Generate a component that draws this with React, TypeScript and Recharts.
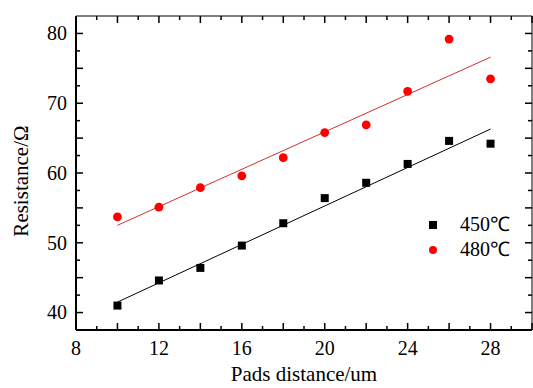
import { ReferenceArea, Scatter, ScatterChart, XAxis, YAxis } from "recharts";

const distances = [10, 12, 14, 16, 18, 20, 22, 24, 26, 28];
const res450 = [41.0, 44.6, 46.4, 49.6, 52.8, 56.4, 58.6, 61.3, 64.6, 64.2];
const res480 = [53.7, 55.1, 57.9, 59.6, 62.2, 65.8, 66.9, 71.7, 79.2, 73.5];

// linear fit end points
const fitX = [10, 28];
const fit450 = [41.5, 66.3];
const fit480 = [52.5, 76.6];

const seriesNames = ["450℃", "480℃"];
const xTicks = [8, 9, 10, 11, 12, 13, 14, 15, 16, 17, 18, 19, 20, 21, 22, 23, 24, 25, 26, 27, 28, 29, 30];
const yTicks = [40, 42.5, 45, 47.5, 50, 52.5, 55, 57.5, 60, 62.5, 65, 67.5, 70, 72.5, 75, 77.5, 80];

const FONT = "Liberation Serif";
const RED = "#ff0000";
const FIT_RED = "#d03030";

const W = 533;
const H = 388;
const MARGIN = { top: 16, right: 1, bottom: 0, left: 0 };
const X_AXIS_H = 58;
const Y_AXIS_W = 76;
const PLOT_W = W - MARGIN.left - MARGIN.right - Y_AXIS_W;
const PLOT_H = H - MARGIN.top - MARGIN.bottom - X_AXIS_H;

const points450 = distances.map((x, i) => ({ x, y: res450[i] }));
const points480 = distances.map((x, i) => ({ x, y: res480[i] }));
const line450 = fitX.map((x, i) => ({ x, y: fit450[i] }));
const line480 = fitX.map((x, i) => ({ x, y: fit480[i] }));

const tickLen = (major: boolean) => (major ? 7 : 4);

// bottom ticks also mirror onto the top border
const BottomTick = (props: any) => {
  const { x, y, payload, span } = props;
  const v = payload.value;
  const len = tickLen(v % 2 === 0);
  return (
    <g>
      <rect x={x - 0.75} y={y - len} width={1.5} height={len} fill="#000" />
      <rect x={x - 0.75} y={y - span} width={1.5} height={len} fill="#000" />
      {v % 4 === 0 && (
        <text x={x} y={y + 25} textAnchor="middle" fontFamily={FONT} fontSize={20} fill="#000">
          {v}
        </text>
      )}
    </g>
  );
};

// left ticks also mirror onto the right border
const LeftTick = (props: any) => {
  const { x, y, payload, span } = props;
  const v = payload.value;
  const len = tickLen(v % 5 === 0);
  return (
    <g>
      <rect x={x} y={y - 0.75} width={len} height={1.5} fill="#000" />
      <rect x={x + span - len} y={y - 0.75} width={len} height={1.5} fill="#000" />
      {v % 10 === 0 && (
        <text x={x - 9} y={y} dy="0.34em" textAnchor="end" fontFamily={FONT} fontSize={20} fill="#000">
          {v}
        </text>
      )}
    </g>
  );
};

const Square = (props: any) => <rect x={props.cx - 4} y={props.cy - 4} width={8} height={8} fill="#000" />;
const Dot = (props: any) => <circle cx={props.cx} cy={props.cy} r={4.4} fill={RED} />;
const NoShape = () => <g />;

const textStyle = { position: "absolute" as const, fontFamily: FONT, fontSize: 21, color: "#000", whiteSpace: "nowrap" as const, lineHeight: "24px" };

export default function App() {
  return (
    <div style={{ position: "absolute", left: 0, top: 0, width: W, height: H, background: "#fff" }}>
      <ScatterChart width={W} height={H} margin={MARGIN}>
        <XAxis
          type="number"
          dataKey="x"
          domain={[8, 30]}
          ticks={xTicks}
          interval={0}
          height={X_AXIS_H}
          tickSize={0}
          tickMargin={0}
          tickLine={false}
          axisLine={{ stroke: "#000", strokeWidth: 2 }}
          tick={<BottomTick span={PLOT_H} />}
        />
        <YAxis
          type="number"
          dataKey="y"
          domain={[37.5, 82.5]}
          ticks={yTicks}
          interval={0}
          width={Y_AXIS_W}
          tickSize={0}
          tickMargin={0}
          tickLine={false}
          axisLine={{ stroke: "#000", strokeWidth: 2 }}
          tick={<LeftTick span={PLOT_W} />}
        />
        <ReferenceArea x1={8} x2={30} y1={37.5} y2={82.5} fill="#fff" fillOpacity={0} stroke="#000" strokeWidth={1} />
        <Scatter data={line450} line={{ stroke: "#000", strokeWidth: 1 }} shape={<NoShape />} isAnimationActive={false} />
        <Scatter data={line480} line={{ stroke: FIT_RED, strokeWidth: 1 }} shape={<NoShape />} isAnimationActive={false} />
        <Scatter name={seriesNames[0]} data={points450} shape={<Square />} isAnimationActive={false} />
        <Scatter name={seriesNames[1]} data={points480} shape={<Dot />} isAnimationActive={false} />
      </ScatterChart>

      {/* axis titles */}
      <div style={{ ...textStyle, left: 0, width: 608, top: 362, textAlign: "center" }}>Pads distance/um</div>
      <div style={{ ...textStyle, left: 21, top: 181, transform: "translate(-50%, -50%) rotate(-90deg)" }}>Resistance/Ω</div>

      {/* legend */}
      <div style={{ position: "absolute", left: 428, top: 212, fontFamily: FONT, fontSize: 20, color: "#000" }}>
        {seriesNames.map((name, i) => (
          <div key={name} style={{ display: "flex", alignItems: "center", height: 25, lineHeight: "25px" }}>
            <svg width={10} height={10}>
              {i === 0 ? <rect x={1} y={1} width={8} height={8} fill="#000" /> : <circle cx={5} cy={5} r={4} fill={RED} />}
            </svg>
            <span style={{ marginLeft: 22 }}>{name}</span>
          </div>
        ))}
      </div>
    </div>
  );
}
